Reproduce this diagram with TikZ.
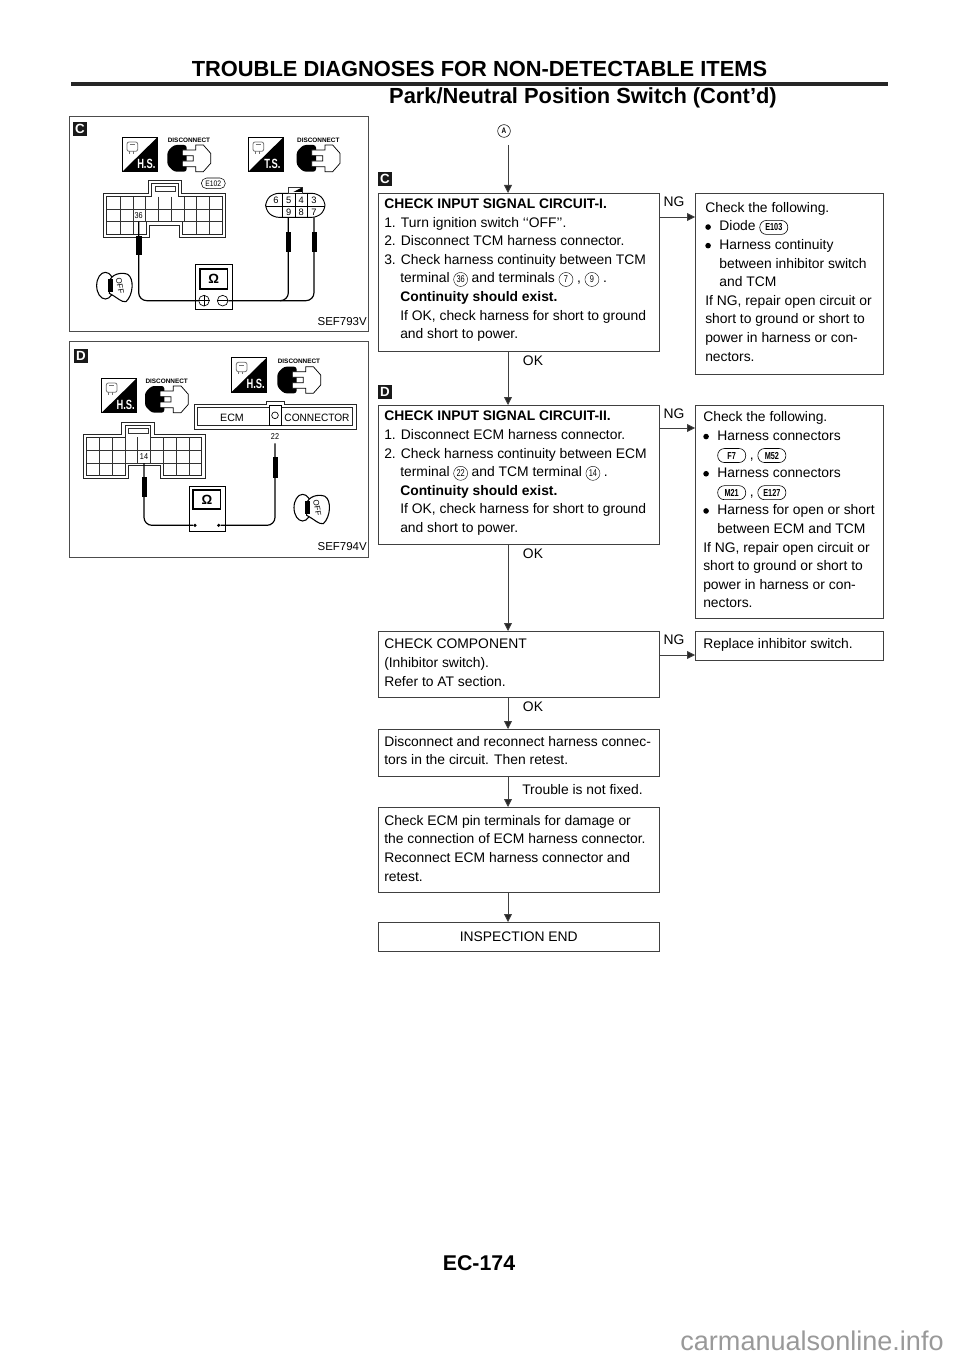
\documentclass[tikz,border=0pt]{standalone}
\usepackage{fontspec}
\setmainfont{Liberation Sans}
\usetikzlibrary{arrows.meta, positioning, shapes.geometric}

\tikzset{
  flowbox/.style={draw=black!75, line width=0.7pt, anchor=north west, inner sep=0pt},
  flowtext/.style={anchor=north west, align=left, inner sep=0pt, font=\fontsize{10.4}{13.95}\selectfont},
  flowlabel/.style={inner sep=0pt, font=\fontsize{10.4}{12}\selectfont},
  flowarrow/.style={draw=black!75, line width=0.6pt, -{Triangle[length=6pt,width=6pt,fill=black!85]}},
  panel/.style={draw=black!70, line width=0.6pt, anchor=north west, inner sep=0pt},
  tagbox/.style={fill=black!90, text=white, inner sep=0pt, minimum size=10.5pt, font=\bfseries\fontsize{10}{10}\selectfont},
  wire/.style={line width=0.9pt, rounded corners=6pt},
  probe/.style={fill=black, draw=black},
  shell/.style={line width=0.5pt, black!85},
  cell/.style={line width=0.4pt, black!80}
}

% circled terminal number inside a line
\newcommand{\term}[1]{\tikz[baseline=(trm.base)]\node[draw, circle, line width=0.3pt, inner sep=0pt, minimum size=10.5pt, anchor=center, font=\fontsize{7.4}{7}\selectfont] (trm) {\scalebox{0.75}[1]{#1}};}
% harness connector name inside a line
\newcommand{\hconn}[1]{\tikz[baseline=(hcn.base)]\node[draw, rounded corners=5pt, line width=0.45pt, inner sep=0pt, minimum height=10.5pt, minimum width=21pt, anchor=center, font=\bfseries\fontsize{7.6}{7}\selectfont] (hcn) {\scalebox{0.72}[1]{#1}};}
\newcommand{\flowdot}{\makebox[10.6pt][l]{\tikz[baseline=0pt]\fill (2.4pt,2.9pt) circle (2.1pt);}}

% tester icon parts, in the units of the panel scope
\newcommand{\hsicon}[3]{%
  \draw[line width=0.5pt, fill=white] (#1,#2) rectangle ++(105,103);
  \fill (#1+105,#2) -- (#1+105,#2+103) -- (#1,#2+103) -- cycle;
  \draw[line width=0.6pt, black!55, rounded corners=1.5pt] (#1+14,#2+14) rectangle (#1+46,#2+42);
  \draw[line width=0.6pt, black!55] (#1+22,#2+22) -- (#1+38,#2+22) (#1+20,#2+42) -- (#1+20,#2+50) (#1+32,#2+42) -- (#1+32,#2+50);
  \node[text=white, inner sep=0pt, font=\bfseries\fontsize{10}{10}\selectfont] at (#1+72,#2+80) {\scalebox{0.7}[1]{#3}};
}
\newcommand{\discicon}[2]{%
  \node[inner sep=0pt, font=\bfseries\fontsize{4.8}{5}\selectfont] at (#1+65,#2-15) {DISCONNECT};
  \fill[rounded corners=2pt] (#1,#2+20) -- (#1+20,#2) -- (#1+58,#2) -- (#1+58,#2+80) -- (#1+20,#2+80) -- (#1,#2+60) -- cycle;
  \draw[line width=0.55pt, fill=white] (#1+45,#2+15) -- (#1+85,#2+15) -- (#1+85,#2) -- (#1+108,#2) -- (#1+130,#2+25) -- (#1+130,#2+55) -- (#1+108,#2+80) -- (#1+85,#2+80) -- (#1+85,#2+65) -- (#1+45,#2+65) -- (#1+45,#2+48) -- (#1+78,#2+48) -- (#1+78,#2+32) -- (#1+45,#2+32) -- cycle;
}
\newcommand{\keyicon}[2]{%
  \draw[line width=0.8pt, fill=white] (#1+28,#2+42) ellipse (26 and 40);
  \draw[line width=0.8pt, fill=white] (#1+40,#2+30) .. controls (#1+45,#2+8) and (#1+75,#2) .. (#1+95,#2+8) .. controls (#1+115,#2+20) and (#1+112,#2+70) .. (#1+90,#2+90) .. controls (#1+75,#2+92) and (#1+68,#2+80) .. (#1+40,#2+65) -- cycle;
  \fill (#1+36,#2+22) rectangle (#1+50,#2+62);
  \node[inner sep=0pt, rotate=-80, font=\fontsize{6}{6}\selectfont] at (#1+72,#2+42) {OFF};
}

\begin{document}
\begin{tikzpicture}[x=0.75pt, y=-0.75pt]
  \useasboundingbox (0,0) rectangle (960,1358);

  % Header
  \node[anchor=base, inner sep=0pt, font=\bfseries\fontsize{16.4}{18}\selectfont] (title) at (479.5,77) {TROUBLE DIAGNOSES FOR NON-DETECTABLE ITEMS};
  \coordinate (ruleleft) at (71,84.5);
  \coordinate (ruleright) at (888,84.5);
  \draw[line width=3pt, black!85] (ruleleft) -- (ruleright);
  \node[anchor=base east, inner sep=0pt, font=\bfseries\fontsize{16.4}{18}\selectfont] (subtitle) at (777,104) {Park/Neutral Position Switch (Cont’d)};

  % Panel C
  \node[panel, minimum width=224pt, minimum height=161.25pt] (panelC) at (69,116.5) {};
  \node[tagbox] (tagC) at (80,129) {C};
  \node[anchor=south east, inner sep=0pt, font=\fontsize{8.6}{9}\selectfont] (sefC) at (367,326) {SEF793V};
  \begin{scope}[shift={(60,110)}, x=0.25pt, y=-0.25pt]
    \hsicon{187}{82}{H.S.}
    \discicon{322}{105}
    \hsicon{565}{82}{T.S.}
    \discicon{710}{105}
    % connector E102
    \draw[shell] (130,250) -- (265,250) -- (265,210) -- (365,210) -- (365,250) -- (497,250) -- (497,382) -- (358,382) -- (358,345) -- (268,345) -- (268,382) -- (130,382) -- cycle;
    \draw[shell] (140,260) -- (275,260) -- (275,220) -- (355,220) -- (355,260) -- (487,260) -- (487,373) -- (368,373) -- (368,335) -- (258,335) -- (258,373) -- (140,373) -- cycle;
    \draw[cell] (285,228) rectangle (345,245);
    \foreach \cx in {181,219,257,296,334,372,410,449} \draw[cell] (\cx,260) -- (\cx,335);
    \foreach \cx in {181,219,410,449} \draw[cell] (\cx,335) -- (\cx,373);
    \draw[cell] (140,297) -- (487,297) (140,335) -- (487,335);
    \node[draw, rounded corners=4pt, line width=0.4pt, inner sep=0pt, minimum width=18pt, minimum height=8pt, font=\fontsize{6}{6}\selectfont] (capE) at (460,220) {\scalebox{0.85}[1]{E102}};
    \node[fill=white, inner sep=0.4pt, font=\fontsize{6.4}{7}\selectfont] (n36) at (236,318) {\scalebox{0.85}[1]{36}};
    % connector with terminals
    \draw[line width=0.7pt, rounded corners=4pt] (640,250) -- (772,250) -- (795,272) -- (795,300) -- (772,322) -- (640,322) -- (617,300) -- (617,272) -- cycle;
    \draw[cell, fill=white] (685,232) rectangle (727,250);
    \fill (727,232) -- (727,246) -- (700,246) -- cycle;
    \foreach \cx in {667,705,743} \draw[line width=0.5pt] (\cx,250) -- (\cx,322);
    \draw[line width=0.5pt] (617,288) -- (795,288);
    \foreach \cx/\lab in {648/6,686/5,724/4,762/3} \node[inner sep=0pt, font=\fontsize{7}{7}\selectfont] at (\cx,270) {\lab};
    \foreach \cx/\lab in {686/9,724/8,762/7} \node[inner sep=0pt, font=\fontsize{7}{7}\selectfont] at (\cx,306) {\lab};
    % tester
    \draw[line width=0.7pt, fill=white] (405,462) rectangle (517,598);
    \draw[line width=0.8pt] (420,477) rectangle (502,537);
    \node[inner sep=0pt, font=\bfseries\fontsize{10}{10}\selectfont] (ohmC) at (461,507) {Ω};
    \node[draw, circle, line width=0.5pt, minimum size=8pt, inner sep=0pt] (plusC) at (432,572) {};
    \node[draw, circle, line width=0.5pt, minimum size=8pt, inner sep=0pt] (minusC) at (488,572) {};
    \draw[line width=0.4pt] (plusC.west) -- (plusC.east) (plusC.north) -- (plusC.south) (minusC.west) -- (minusC.east);
    \draw[wire] (236,335) -- (236,572) -- (plusC.west);
    \draw[wire] (minusC.east) -- (762,572) -- (762,322);
    \draw[wire] (685,322) -- (685,572) -- (660,572);
    \draw[probe] (229,380) rectangle (245,433);
    \draw[probe] (679,368) rectangle (692,425);
    \draw[probe] (756,368) rectangle (769,425);
    \keyicon{108}{485}
  \end{scope}

  % Panel D
  \node[panel, minimum width=224pt, minimum height=161.25pt] (panelD) at (69,341.5) {};
  \node[tagbox] (tagD) at (81,356) {D};
  \node[anchor=south east, inner sep=0pt, font=\fontsize{8.6}{9}\selectfont] (sefD) at (367,551) {SEF794V};
  \begin{scope}[shift={(60,335)}, x=0.25pt, y=-0.25pt]
    \hsicon{125}{130}{H.S.}
    \discicon{255}{153}
    \hsicon{515}{68}{H.S.}
    \discicon{652}{95}
    % ECM connector
    \draw[shell] (403,208) -- (618,208) -- (618,198) -- (674,198) -- (674,208) -- (888,208) -- (888,282) -- (403,282) -- cycle;
    \draw[shell] (413,217) rectangle (877,270);
    \draw[line width=0.5pt, fill=white] (627,210) rectangle (663,270);
    \node[draw, circle, line width=0.5pt, minimum size=5pt, inner sep=0pt] (holeD) at (645,241) {};
    \node[inner sep=0pt, font=\fontsize{8}{9}\selectfont] (ecmD) at (516,247) {ECM};
    \node[inner sep=0pt, font=\fontsize{8}{9}\selectfont] (cnD) at (771,247) {\scalebox{0.95}[1]{CONNECTOR}};
    \node[inner sep=0pt, font=\fontsize{6.4}{7}\selectfont] (n22) at (645,305) {\scalebox{0.85}[1]{22}};
    % connector 14
    \draw[shell] (70,297) -- (185,297) -- (185,262) -- (282,262) -- (282,297) -- (435,297) -- (435,430) -- (302,430) -- (302,392) -- (205,392) -- (205,430) -- (70,430) -- cycle;
    \draw[shell] (80,307) -- (195,307) -- (195,270) -- (272,270) -- (272,307) -- (424,307) -- (424,422) -- (310,422) -- (310,384) -- (195,384) -- (195,422) -- (80,422) -- cycle;
    \draw[cell] (205,280) rectangle (265,295);
    \foreach \cx in {118,157,195,233,272,310,349,387} \draw[cell] (\cx,307) -- (\cx,384);
    \foreach \cx in {118,157,349,387} \draw[cell] (\cx,384) -- (\cx,422);
    \draw[cell] (80,346) -- (424,346) (80,384) -- (424,384);
    \node[fill=white, inner sep=0.4pt, font=\fontsize{6.4}{7}\selectfont] (n14) at (252,366) {\scalebox{0.85}[1]{14}};
    % tester
    \draw[line width=0.7pt, fill=white] (387,454) rectangle (495,588);
    \draw[line width=0.8pt] (399,465) rectangle (482,522);
    \node[inner sep=0pt, font=\bfseries\fontsize{10}{10}\selectfont] (ohmD) at (441,494) {Ω};
    \node[fill, circle, minimum size=2.6pt, inner sep=0pt] (plusD) at (405,571) {};
    \node[fill, circle, minimum size=2.6pt, inner sep=0pt] (minusD) at (476,571) {};
    \draw[wire] (252,384) -- (252,571) -- (plusD);
    \draw[wire] (minusD) -- (645,571) -- (645,325);
    \draw[probe] (246,428) rectangle (260,484);
    \draw[probe] (640,368) rectangle (653,428);
    \keyicon{700}{476}
  \end{scope}

  % Flow
  \coordinate (axis) at (508,0);
  \node[draw, circle, line width=0.4pt, inner sep=0pt, minimum size=9.5pt, font=\bfseries\fontsize{6}{6}\selectfont] (startA) at (504,131) {\scalebox{0.8}[1]{A}};
  \coordinate (startend) at (508,145);
  \node[tagbox] (flowC) at (385,179) {C};
  \node[tagbox] (flowD) at (385,392) {D};

  \node[flowbox, minimum width=210.5pt, minimum height=118.5pt] (check1) at (378,193) {};
  \node[flowtext] at (384,198.5) {\textbf{CHECK INPUT SIGNAL CIRCUIT-I.}\\
    1. Turn ignition switch ‘‘OFF’’.\\
    2. Disconnect TCM harness connector.\\
    3. Check harness continuity between TCM\\
    \hspace*{12pt}terminal \term{36} and terminals \term{7} , \term{9} .\\
    \hspace*{12pt}\textbf{Continuity should exist.}\\
    \hspace*{12pt}If OK, check harness for short to ground\\
    \hspace*{12pt}and short to power.};

  \node[flowbox, minimum width=141pt, minimum height=135.75pt] (repair1) at (695,193) {};
  \node[flowtext] at (705,202) {Check the following.\\
    \flowdot Diode \hconn{E103}\\
    \flowdot Harness continuity\\
    \hspace*{10.6pt}between inhibitor switch\\
    \hspace*{10.6pt}and TCM\\
    If NG, repair open circuit or\\
    short to ground or short to\\
    power in harness or con-\\
    nectors.};

  \node[flowbox, minimum width=210.5pt, minimum height=104.25pt] (check2) at (378,405) {};
  \node[flowtext] at (384,411) {\textbf{CHECK INPUT SIGNAL CIRCUIT-II.}\\
    1. Disconnect ECM harness connector.\\
    2. Check harness continuity between ECM\\
    \hspace*{12pt}terminal \term{22} and TCM terminal \term{14} .\\
    \hspace*{12pt}\textbf{Continuity should exist.}\\
    \hspace*{12pt}If OK, check harness for short to ground\\
    \hspace*{12pt}and short to power.};

  \node[flowbox, minimum width=141pt, minimum height=159.75pt] (repair2) at (695,405) {};
  \node[flowtext] at (703,411.5) {Check the following.\\
    \flowdot Harness connectors\\
    \hspace*{10.6pt}\hconn{F7} , \hconn{M52}\\
    \flowdot Harness connectors\\
    \hspace*{10.6pt}\hconn{M21} , \hconn{E127}\\
    \flowdot Harness for open or short\\
    \hspace*{10.6pt}between ECM and TCM\\
    If NG, repair open circuit or\\
    short to ground or short to\\
    power in harness or con-\\
    nectors.};

  \node[flowbox, minimum width=210.5pt, minimum height=49.5pt] (check3) at (378,631) {};
  \node[flowtext] at (384,639) {CHECK COMPONENT\\(Inhibitor switch).\\Refer to AT section.};

  \node[flowbox, minimum width=141pt, minimum height=21.75pt] (repair3) at (695,631) {};
  \node[flowtext] at (703,638.5) {Replace inhibitor switch.};

  \node[flowbox, minimum width=210.5pt, minimum height=35.25pt] (check4) at (378,729) {};
  \node[flowtext] at (384,736) {Disconnect and reconnect harness connec-\\tors in the circuit. Then retest.};

  \node[flowbox, minimum width=210.5pt, minimum height=63.75pt] (check5) at (378,807) {};
  \node[flowtext] at (384,815) {Check ECM pin terminals for damage or\\the connection of ECM harness connector.\\Reconnect ECM harness connector and\\retest.};

  \node[flowbox, minimum width=210.5pt, minimum height=21.75pt, font=\fontsize{10.4}{13.9}\selectfont] (endbox) at (378,922) {INSPECTION END};

  % Connectors
  \draw[flowarrow] (startend) -- (check1.north -| axis);
  \draw[flowarrow] (check1.south -| axis) -- (check2.north -| axis);
  \draw[flowarrow] (check2.south -| axis) -- (check3.north -| axis);
  \draw[flowarrow] (check3.south -| axis) -- (check4.north -| axis);
  \draw[flowarrow] (check4.south -| axis) -- (check5.north -| axis);
  \draw[flowarrow] (check5.south -| axis) -- (endbox.north -| axis);
  \coordinate (ng1) at (659,217);
  \coordinate (ng2) at (659,428);
  \coordinate (ng3) at (659,655);
  \draw[flowarrow] (ng1) -- (ng1 -| repair1.west);
  \draw[flowarrow] (ng2) -- (ng2 -| repair2.west);
  \draw[flowarrow] (ng3) -- (ng3 -| repair3.west);

  % Labels
  \node[flowlabel] (ngA) at (674,202) {NG};
  \node[flowlabel] (ngB) at (674,414) {NG};
  \node[flowlabel] (ngC) at (674,640) {NG};
  \node[flowlabel] (okA) at (533,361) {OK};
  \node[flowlabel] (okB) at (533,554) {OK};
  \node[flowlabel] (okC) at (533,707) {OK};
  \node[flowlabel, anchor=west] (fixed) at (522,790) {Trouble is not fixed.};

  % Page number
  \node[inner sep=0pt, font=\bfseries\fontsize{16}{18}\selectfont] (pageno) at (479,1263) {EC-174};
  \node[anchor=base, inner sep=0pt, text=black!40, font=\fontsize{20.3}{22}\selectfont] (site) at (812,1350) {carmanualsonline.info};
\end{tikzpicture}
\end{document}
